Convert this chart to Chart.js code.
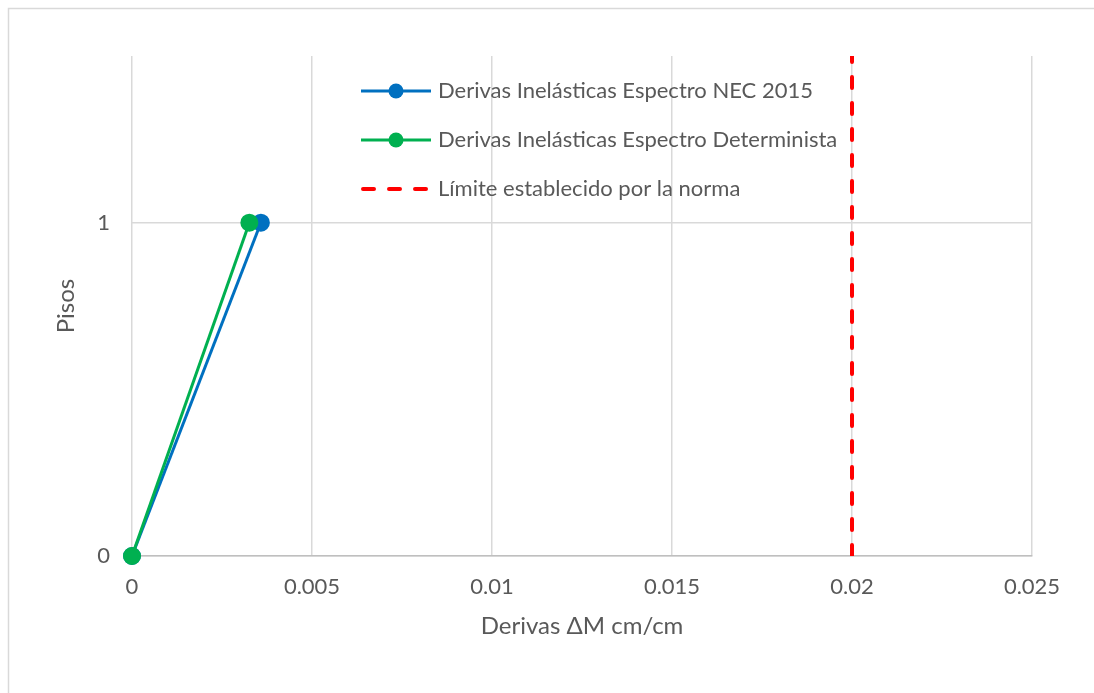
<!DOCTYPE html>
<html>
<head>
<meta charset="utf-8">
<script src="https://cdn.jsdelivr.net/npm/chart.js@4/dist/chart.umd.min.js"></script>
<style>
  body { margin: 0; background: #fff; }
</style>
</head>
<body>
<canvas id="derivasChart" width="1094" height="693"></canvas>
<script>
// datos
const pisos = [0, 1];
const derivasNEC = [0, 0.00358];
const derivasDeterminista = [0, 0.00326];
const limiteDeriva = [0.02, 0.02];
const limitePisos = [0, 1.5];
const xTicks = [0, 0.005, 0.01, 0.015, 0.02, 0.025];
const yTicks = [0, 1];

const etiquetas = [
  'Derivas Inelásticas Espectro NEC 2015',
  'Derivas Inelásticas Espectro Determinista',
  'Límite establecido por la norma'
];

const FONT = "Lato, 'Open Sans', sans-serif";
const TEXT = '#595959';

function toPoints(xs, ys) {
  return xs.map((x, i) => ({ x: x, y: ys[i] }));
}

// marco gris arriba e izquierda
const marco = {
  id: 'marco',
  beforeDraw(chart) {
    const ctx = chart.ctx;
    ctx.save();
    ctx.fillStyle = '#fff';
    ctx.fillRect(0, 0, chart.width, chart.height);
    ctx.strokeStyle = '#d9d9d9';
    ctx.lineWidth = 1.5;
    ctx.beginPath();
    ctx.moveTo(8.5, chart.height);
    ctx.lineTo(8.5, 8.5);
    ctx.lineTo(chart.width, 8.5);
    ctx.stroke();
    ctx.restore();
  }
};

// leyenda dentro del area del grafico
const leyenda = {
  id: 'leyenda',
  afterDraw(chart) {
    const ctx = chart.ctx;
    ctx.save();
    chart.data.datasets.forEach((ds, i) => {
      const y = 91 + i * 49;
      ctx.strokeStyle = ds.borderColor;
      ctx.lineWidth = ds.borderWidth;
      ctx.lineCap = ds.borderCapStyle || 'butt';
      ctx.setLineDash(ds.borderDash || []);
      ctx.beginPath();
      ctx.moveTo(i === 2 ? 363 : 361, y);
      ctx.lineTo(431, y);
      ctx.stroke();
      ctx.setLineDash([]);
      if (ds.pointRadius > 0) {
        ctx.fillStyle = ds.pointBackgroundColor;
        ctx.beginPath();
        ctx.arc(396, y, ds.pointRadius, 0, Math.PI * 2);
        ctx.fill();
      }
      ctx.fillStyle = TEXT;
      ctx.font = '22px ' + FONT;
      ctx.textBaseline = 'middle';
      ctx.fillText(ds.label, 438, y);
    });
    ctx.restore();
  }
};

const data = {
  datasets: [{
    label: etiquetas[0],
    data: toPoints(derivasNEC, pisos),
    borderColor: '#0070C0',
    backgroundColor: '#0070C0',
    pointBackgroundColor: '#0070C0',
    pointBorderColor: '#0070C0',
    borderWidth: 3,
    pointRadius: 7.5,
    clip: false,
    order: 2
  }, {
    label: etiquetas[1],
    data: toPoints(derivasDeterminista, pisos),
    borderColor: '#00B050',
    backgroundColor: '#00B050',
    pointBackgroundColor: '#00B050',
    pointBorderColor: '#00B050',
    borderWidth: 3,
    pointRadius: 7.5,
    clip: false,
    order: 1
  }, {
    label: etiquetas[2],
    data: toPoints(limiteDeriva, limitePisos),
    borderColor: '#FF0000',
    backgroundColor: '#FF0000',
    borderWidth: 4,
    borderDash: [11, 15],
    borderCapStyle: 'round',
    pointRadius: 0,
    order: 0
  }]
};

const config = {
  type: 'scatter',
  data: data,
  options: {
    responsive: false,
    animation: false,
    showLine: true,
    layout: {
      padding: { left: 48, top: 56, right: 62, bottom: 48 }
    },
    scales: {
      x: {
        type: 'linear',
        min: 0,
        max: 0.025,
        afterBuildTicks: (axis) => { axis.ticks = xTicks.map(v => ({ value: v })); },
        afterFit: (axis) => { axis.height = 89; },
        ticks: {
          color: TEXT,
          font: { family: FONT, size: 22 },
          padding: 18,
          callback: (v) => String(Number(v.toFixed(3)))
        },
        grid: { color: '#d9d9d9', lineWidth: 1.5, drawTicks: false },
        border: { color: '#bfbfbf', width: 1.5 },
        title: {
          display: true,
          text: 'Derivas ΔM cm/cm',
          color: TEXT,
          font: { family: FONT, size: 24 }
        }
      },
      y: {
        type: 'linear',
        min: 0,
        max: 1.5,
        afterBuildTicks: (axis) => { axis.ticks = yTicks.map(v => ({ value: v })); },
        afterFit: (axis) => { axis.width = 84; },
        ticks: {
          color: TEXT,
          font: { family: FONT, size: 22 },
          padding: 22
        },
        grid: { color: '#d9d9d9', lineWidth: 1.5, drawTicks: false },
        border: { display: false },
        title: {
          display: true,
          text: 'Pisos',
          color: TEXT,
          font: { family: FONT, size: 24 }
        }
      }
    },
    plugins: {
      legend: { display: false },
      tooltip: { enabled: false }
    }
  },
  plugins: [marco, leyenda]
};

let derivasChart = new Chart(document.getElementById('derivasChart'), config);
</script>
</body>
</html>
